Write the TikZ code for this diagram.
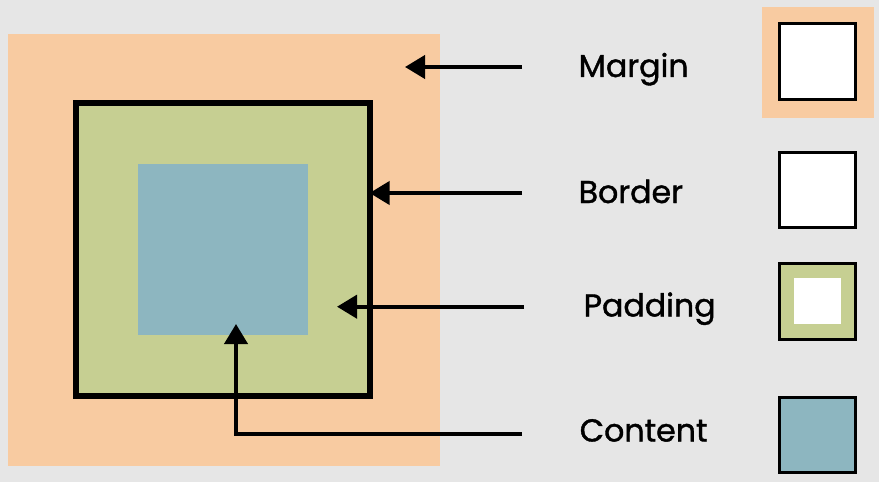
\documentclass[tikz,border=0pt]{standalone}
\usepackage{fontspec}
\setmainfont{Poppins}
\newfontfamily\lblfont[FakeBold=1.2]{Poppins}
\usetikzlibrary{arrows.meta}
\definecolor{bgcol}{HTML}{E6E6E6}
\definecolor{margincol}{HTML}{F8CBA1}
\definecolor{paddingcol}{HTML}{C6CF92}
\definecolor{contentcol}{HTML}{8DB6C0}
\begin{document}
\begin{tikzpicture}[x=0.01cm,y=-0.01cm,
    lbl/.style={anchor=base west,inner sep=0pt,font=\lblfont\fontsize{9}{11}\selectfont},
    arr/.style={line width=0.04cm,-{Triangle[length=0.2cm,width=0.23cm]}},
    box/.style={inner sep=0pt,outer sep=0pt},
    icon/.style={box,draw=black,line width=0.03cm,minimum size=0.75cm}]
\fill[bgcol] (0,0) rectangle (879,482);
\node (margin) [box,fill=margincol,minimum size=4.32cm] at (224,250) {};
\node (border) [box,draw,fill=paddingcol,line width=0.06cm,minimum size=2.935cm] at (222.75,249.5) {};
\node (content) [box,fill=contentcol,minimum size=1.7cm] at (223,249.5) {};
\node (lmargin) [lbl] at (578,77) {Margin};
\node (lborder) [lbl] at (578,203) {Border};
\node (lpadding) [lbl] at (583,316.5) {Padding};
\node (lcontent) [lbl] at (579,441.5) {Content};
\node (imargin) [box,fill=margincol,minimum width=1.12cm,minimum height=1.11cm] at (818,62.5) {};
\node (imargin2) [icon,fill=white] at (817.5,61.5) {};
\node (iborder) [icon,fill=white] at (817.5,190) {};
\node (ipadding) [icon,fill=paddingcol] at (817.5,301.5) {};
\node (ipadding2) [box,fill=white,minimum size=0.46cm] at (817.5,301) {};
\node (icontent) [icon,fill=contentcol] at (817.5,435.3) {};
\coordinate (smargin) at (522,67);
\coordinate (sborder) at (522,193);
\coordinate (spadding) at (524,306.7);
\coordinate (scontent) at (522,434.3);
\coordinate (tmargin) at (405,67);
\coordinate (tpadding) at (337,306.7);
\coordinate (tcontent) at (236,324);
\draw[arr] (smargin) -- (tmargin);
\draw[arr] (sborder) -- (sborder -| border.east);
\draw[arr] (spadding) -- (tpadding);
\draw[arr] (scontent) -| (tcontent);
\end{tikzpicture}
\end{document}
